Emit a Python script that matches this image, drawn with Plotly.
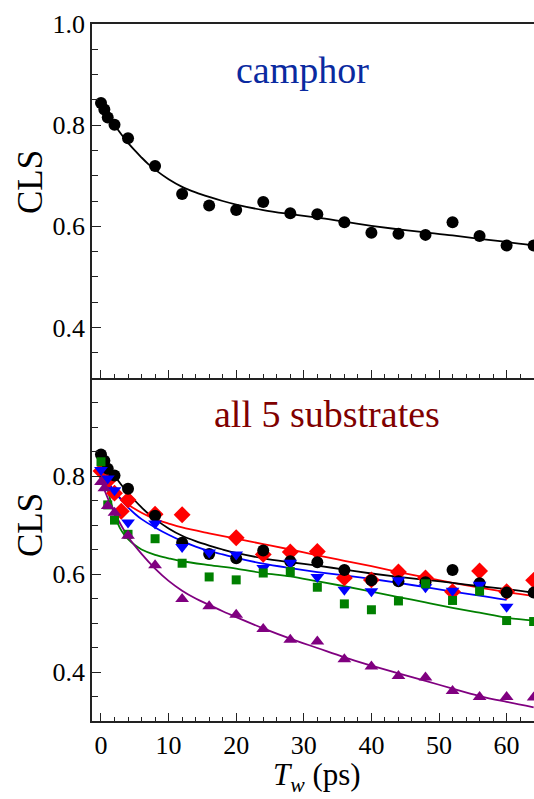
import plotly.graph_objects as go

# ---------------- data ----------------
tw_black = [0, 0.5, 1, 2, 4, 8, 12, 16, 20, 24, 28, 32, 36, 40, 44, 48, 52, 56, 60, 64]
cls_black = [0.844, 0.831, 0.815, 0.801, 0.774, 0.719, 0.664, 0.641, 0.632, 0.648, 0.626,
             0.624, 0.608, 0.587, 0.585, 0.583, 0.608, 0.581, 0.562, 0.562]

tw_red = [0, 1, 2, 3, 4, 8, 12, 20, 24, 28, 32, 36, 40, 44, 48, 52, 56, 60, 64]
cls_red = [0.81, 0.79, 0.765, 0.728, 0.751, 0.722, 0.721, 0.674, 0.640, 0.645, 0.646,
           0.592, 0.588, 0.604, 0.592, 0.564, 0.606, 0.564, 0.587]

tw_blue = [0, 1, 2, 4, 8, 12, 16, 20, 24, 28, 32, 36, 40, 44, 48, 52, 56, 60]
cls_blue = [0.812, 0.795, 0.771, 0.705, 0.703, 0.655, 0.644, 0.640, 0.612, 0.623, 0.594,
            0.568, 0.565, 0.587, 0.573, 0.566, 0.578, 0.533]

tw_green = [0, 1, 2, 4, 8, 12, 16, 20, 24, 28, 32, 36, 40, 44, 48, 52, 56, 60, 64]
cls_green = [0.829, 0.741, 0.710, 0.681, 0.672, 0.622, 0.594, 0.588, 0.602, 0.605, 0.573,
             0.539, 0.527, 0.545, 0.580, 0.546, 0.565, 0.505, 0.503]

tw_purple = [0, 0.5, 1, 2, 4, 8, 12, 16, 20, 24, 28, 32, 36, 40, 44, 48, 52, 56, 60, 64]
cls_purple = [0.788, 0.775, 0.739, 0.725, 0.678, 0.618, 0.549, 0.534, 0.517, 0.488, 0.466,
              0.462, 0.426, 0.411, 0.392, 0.389, 0.361, 0.349, 0.349, 0.348]

# fitted curves at these delays
fit_tw_black = [0, 1, 2, 3, 4, 5, 6, 7, 8, 10, 12, 14, 16, 18, 20, 24, 28, 32, 36, 40, 44, 48, 52, 56, 60, 64]
fit_black = [0.845, 0.822, 0.801, 0.782, 0.765, 0.750, 0.736, 0.723, 0.712, 0.693, 0.678, 0.667, 0.658,
             0.650, 0.643, 0.632, 0.624, 0.617, 0.609, 0.601, 0.594, 0.588, 0.582, 0.575, 0.569, 0.562]
fit_tw_red = [0, 1, 2, 3, 4, 6, 8, 10, 12, 16, 20, 24, 28, 32, 36, 40, 44, 48, 52, 56, 60, 64]
fit_red = [0.80, 0.783, 0.767, 0.753, 0.742, 0.725, 0.712, 0.703, 0.695, 0.683, 0.672, 0.661, 0.650,
           0.638, 0.627, 0.616, 0.604, 0.593, 0.582, 0.572, 0.563, 0.555]
fit_tw_blue = [0, 1, 2, 3, 4, 5, 6, 8, 10, 12, 14, 16, 18, 20, 24, 28, 32, 36, 40, 44, 48, 52, 56, 60]
fit_blue = [0.812, 0.789, 0.769, 0.751, 0.736, 0.723, 0.712, 0.695, 0.680, 0.667, 0.656, 0.647, 0.640,
            0.633, 0.621, 0.612, 0.604, 0.597, 0.590, 0.582, 0.573, 0.564, 0.556, 0.547]
fit_tw_green = [0, 0.5, 1, 1.5, 2, 2.5, 3, 3.5, 4, 5, 6, 8, 10, 12, 16, 20, 24, 28, 32, 36, 40, 44, 48, 52, 56, 60, 64]
fit_green = [0.83, 0.80, 0.772, 0.745, 0.722, 0.703, 0.689, 0.679, 0.671, 0.659, 0.650, 0.639, 0.632,
             0.626, 0.618, 0.611, 0.602, 0.595, 0.585, 0.575, 0.564, 0.553, 0.542, 0.531, 0.521, 0.511, 0.505]
fit_tw_purple = [0, 1, 2, 3, 4, 6, 8, 10, 12, 14, 16, 18, 20, 24, 28, 32, 36, 40, 44, 48, 52, 56, 60, 64]
fit_purple = [0.79, 0.755, 0.725, 0.699, 0.676, 0.641, 0.611, 0.586, 0.566, 0.550, 0.537, 0.524, 0.512,
              0.489, 0.468, 0.449, 0.430, 0.413, 0.397, 0.382, 0.366, 0.351, 0.339, 0.328]

title_top = "camphor"
title_bottom = "all 5 substrates"

# ---------------- figure ----------------
BLACK, RED, BLUE, GREEN, PURPLE = "#000000", "#ff0000", "#0000ff", "#008000", "#800080"
SERIF = "Liberation Serif"

fig = go.Figure()

def line(x, y, color, xa, ya):
    fig.add_trace(go.Scatter(x=x, y=y, mode="lines", line=dict(color=color, width=1.8, shape="spline", smoothing=1.0),
                             xaxis=xa, yaxis=ya, showlegend=False, hoverinfo="skip"))

def marks(x, y, color, symbol, size, xa, ya):
    fig.add_trace(go.Scatter(x=x, y=y, mode="markers", marker=dict(color=color, symbol=symbol, size=size, line=dict(width=0)),
                             xaxis=xa, yaxis=ya, showlegend=False, cliponaxis=True))

# top panel
line(fit_tw_black, fit_black, BLACK, "x", "y")
marks(tw_black, cls_black, BLACK, "circle", 12, "x", "y")

# bottom panel
line(fit_tw_red, fit_red, RED, "x2", "y2")
line(fit_tw_black, fit_black, BLACK, "x2", "y2")
line(fit_tw_blue, fit_blue, BLUE, "x2", "y2")
line(fit_tw_green, fit_green, GREEN, "x2", "y2")
line(fit_tw_purple, fit_purple, PURPLE, "x2", "y2")
marks(tw_red, cls_red, RED, "diamond", 13, "x2", "y2")
marks(tw_black, cls_black, BLACK, "circle", 12, "x2", "y2")
marks(tw_blue, cls_blue, BLUE, "triangle-down", 12, "x2", "y2")
marks(tw_green, cls_green, GREEN, "square", 9, "x2", "y2")
marks(tw_purple, cls_purple, PURPLE, "triangle-up", 12, "x2", "y2")

# page body margin is removed (post_script below), so figure pixels == window pixels
W, H = 534, 799
L, T = 92, 24
B = H - 721
pw, ph = W - L, H - T - B
split = (721 - 378) / ph

axis_common = dict(showline=True, linecolor="#222", linewidth=1.5, showgrid=False, zeroline=False,
                   ticks="inside", tickcolor="#222", tickwidth=1.3, automargin=False)
xrange_ = [-1.33, 64.05]

fig.update_layout(
    width=W, height=H, margin=dict(l=L, r=0, t=T, b=B, autoexpand=False),
    paper_bgcolor="white", plot_bgcolor="white",
    font=dict(family=SERIF, color="black"),
    xaxis=dict(**axis_common, domain=[0, 1], range=xrange_, anchor="y", mirror=True,
               dtick=10, tick0=0, ticklen=8, showticklabels=False,
               minor=dict(dtick=2, tick0=0, ticklen=4, ticks="inside", tickcolor="#222")),
    yaxis=dict(**axis_common, domain=[split, 1], range=[0.3, 1.0], anchor="x",
               tickmode="array", tickvals=[0.4, 0.6, 0.8, 1.0], ticktext=["0.4", "0.6", "0.8", "1.0"],
               ticklen=9, tickfont=dict(size=26, family=SERIF, color="black"),
               minor=dict(dtick=0.05, tick0=0.3, ticklen=6, ticks="inside", tickcolor="#222")),
    xaxis2=dict(**axis_common, domain=[0, 1], range=xrange_, anchor="y2",
                dtick=10, tick0=0, ticklen=8, tickfont=dict(size=26, family=SERIF, color="black"),
                minor=dict(dtick=2, tick0=0, ticklen=4, ticks="inside", tickcolor="#222")),
    yaxis2=dict(**axis_common, domain=[0, split], range=[0.3, 1.0], anchor="x2",
                tickmode="array", tickvals=[0.4, 0.6, 0.8], ticktext=["0.4", "0.6", "0.8"],
                ticklen=9, tickfont=dict(size=26, family=SERIF, color="black"),
                minor=dict(dtick=0.05, tick0=0.3, ticklen=6, ticks="inside", tickcolor="#222")),
)

def px(xp):  # window pixel -> paper fraction
    return (xp - L) / pw

def py(yp):
    return (H - B - yp) / ph

fig.add_annotation(text=title_top, x=px(302), y=py(70), xref="paper", yref="paper", showarrow=False,
                   font=dict(size=38, color="#0a2aa0", family=SERIF), xanchor="center", yanchor="middle")
fig.add_annotation(text=title_bottom, x=px(327), y=py(414), xref="paper", yref="paper", showarrow=False,
                   font=dict(size=38, color="#800000", family=SERIF), xanchor="center", yanchor="middle")
fig.add_annotation(text="CLS", x=px(30), y=py(182), xref="paper", yref="paper", showarrow=False, textangle=-90,
                   font=dict(size=35, color="black", family=SERIF), xanchor="center", yanchor="middle")
fig.add_annotation(text="CLS", x=px(30), y=py(525), xref="paper", yref="paper", showarrow=False, textangle=-90,
                   font=dict(size=35, color="black", family=SERIF), xanchor="center", yanchor="middle")
fig.add_annotation(text="<i>T</i><sub><i>w</i></sub> (ps)", x=px(317), y=py(777), xref="paper", yref="paper",
                   showarrow=False, font=dict(size=31, color="black", family=SERIF),
                   xanchor="center", yanchor="middle")

fig.write_html("out.html",
               config={"displayModeBar": False},
               post_script="document.body.style.margin='0';document.body.style.overflow='hidden';")
